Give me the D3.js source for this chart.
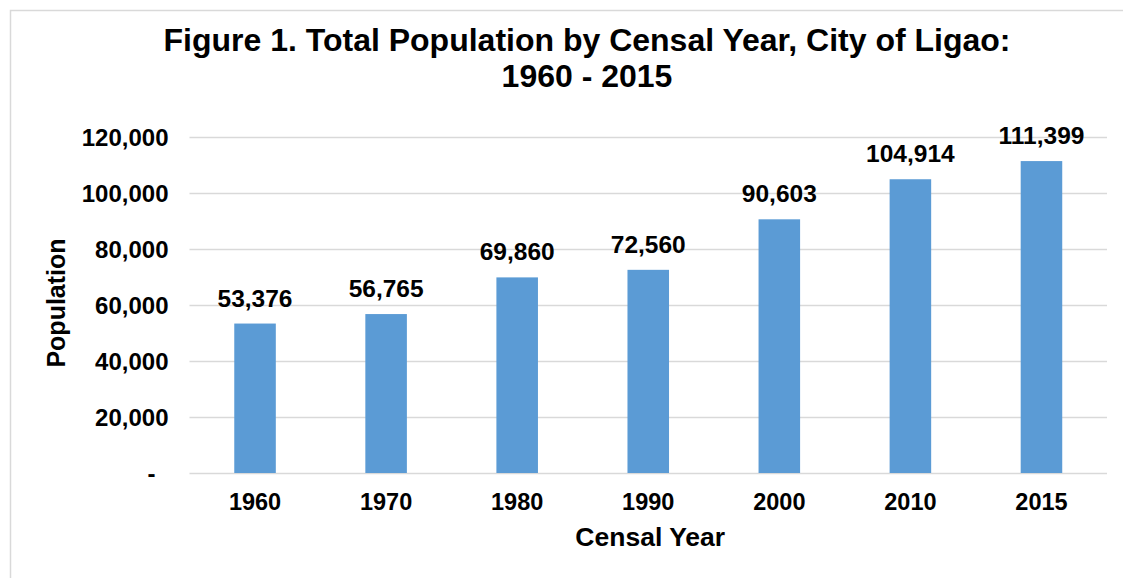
<!DOCTYPE html>
<html><head><meta charset="utf-8">
<script src="https://cdn.jsdelivr.net/npm/d3@7"></script>
<style>
body{margin:0;background:#fff;}
text{font-family:"Liberation Sans",Arial,sans-serif;font-weight:bold;fill:#000;}
</style></head>
<body><svg id="c" width="1123" height="578"></svg>
<script>
const years = ["1960","1970","1980","1990","2000","2010","2015"];
const population = [53376, 56765, 69860, 72560, 90603, 104914, 111399];
const yTicks = [0, 20000, 40000, 60000, 80000, 100000, 120000];
const titleLines = ["Figure 1. Total Population by Censal Year, City of Ligao:", "1960 - 2015"];
const xTitle = "Censal Year";
const yTitle = "Population";

(function(){
const svg = d3.select("#c");
svg.append("rect").attr("x",10.5).attr("y",10.5).attr("width",1200).attr("height",700)
  .attr("fill","#fff").attr("stroke","#d9d9d9").attr("stroke-width",1.5);

const pL = 189.5, pR = 1107, pT = 137, pB = 473;
const x = d3.scaleBand().domain(years).range([pL, pR]).paddingInner(0.683).paddingOuter(0.3415);
const y = d3.scaleLinear().domain([0, 120000]).range([pB, pT]);

// gridlines
svg.append("g").selectAll("line").data(yTicks).join("line")
  .attr("x1",pL).attr("x2",pR).attr("y1",d=>Math.round(y(d))+0.5).attr("y2",d=>Math.round(y(d))+0.5)
  .attr("stroke","#d9d9d9").attr("stroke-width",1.3);

const yAxis = d3.axisLeft(y).tickValues(yTicks).tickSize(0).tickPadding(21)
  .tickFormat(d => d === 0 ? "-" : d3.format(",")(d));
const gy = svg.append("g").attr("transform",`translate(${pL},0)`).call(yAxis);
gy.select(".domain").remove();
gy.selectAll("text").style("font-size","24px").attr("dy","0.35em")
  .attr("dx", d => d === 0 ? "-13px" : 0);

// bars
svg.append("g").selectAll("rect").data(population).join("rect")
  .attr("x",(d,i)=>x(years[i])).attr("width",x.bandwidth())
  .attr("y",d=>y(d)).attr("height",d=>y(0)-y(d))
  .attr("fill","#5b9bd5");

// data labels
svg.append("g").selectAll("text").data(population).join("text")
  .attr("x",(d,i)=>x(years[i])+x.bandwidth()/2).attr("y",d=>y(d)-17)
  .attr("text-anchor","middle").style("font-size","24.5px")
  .text(d=>d3.format(",")(d));

// x axis
const xAxis = d3.axisBottom(x).tickSize(0).tickPadding(20);
const gx = svg.append("g").attr("transform",`translate(0,${pB})`).call(xAxis);
gx.select(".domain").remove();
gx.selectAll("text").style("font-size","23.5px");

// titles
svg.append("g").selectAll("text").data(titleLines).join("text")
  .attr("x",587).attr("y",(d,i)=>51+i*36)
  .attr("text-anchor","middle").style("font-size","32px").text(d=>d);
svg.append("text").attr("x",(pL+pR)/2 + 2).attr("y",546).attr("text-anchor","middle")
  .style("font-size","26.5px").text(xTitle);
svg.append("text").attr("transform","translate(65,303) rotate(-90)").attr("text-anchor","middle")
  .style("font-size","25px").text(yTitle);
})();
</script></body></html>
